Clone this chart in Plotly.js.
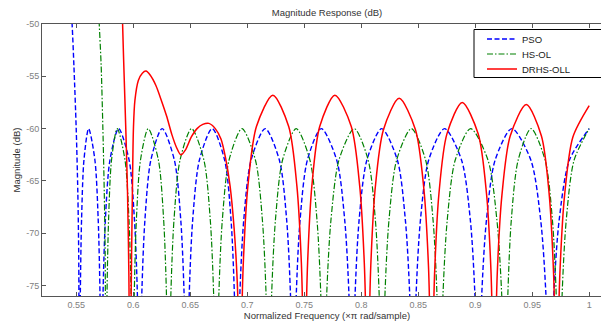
<!DOCTYPE html>
<html><head><meta charset="utf-8">
<script src="https://cdn.plot.ly/plotly-3.0.1.min.js"></script>
<style>html,body{margin:0;padding:0;overflow:hidden;background:#fff;width:601px;height:322px}#chart{width:613px;height:322px}</style>
</head><body><div id="chart"></div>
<script>
const seriesNames = ["PSO", "HS-OL", "DRHS-OLL"];

const pso_x = [0.5420,0.5445,0.5464,0.5480,0.5500,0.5514,0.5522,0.5528,
0.5536,0.5547,0.5568,0.5609,0.5664,0.5693,0.5709,0.5720,
0.5735,0.5756,0.5796,0.5872,0.5964,0.6011,0.6037,0.6055,
0.6075,0.6103,0.6155,0.6254,0.6361,0.6417,0.6447,0.6468,
0.6491,0.6522,0.6581,0.6693,0.6802,0.6858,0.6888,0.6910,
0.6935,0.6970,0.7034,0.7158,0.7282,0.7346,0.7380,0.7405,
0.7430,0.7464,0.7528,0.7650,0.7785,0.7855,0.7893,0.7920,
0.7946,0.7982,0.8050,0.8180,0.8317,0.8387,0.8426,0.8453,
0.8481,0.8520,0.8592,0.8731,0.8880,0.8957,0.8998,0.9028,
0.9057,0.9099,0.9175,0.9322,0.9488,0.9574,0.9621,0.9654,
0.9689,0.9737,0.9827,1.0000];
const pso_y = [-42,-46.5,-50,-54,-60,-66,-72,-90,
-76,-68.7,-63,-60,-63,-68.7,-76,-90,
-76,-68.7,-63,-60,-63,-68.7,-76,-90,
-76,-68.7,-63,-60,-63,-68.7,-76,-90,
-76,-68.7,-63,-60,-63,-68.7,-76,-90,
-76,-68.7,-63,-60,-63,-68.7,-76,-90,
-76,-68.7,-63,-60,-63,-68.7,-76,-90,
-76,-68.7,-63,-60,-63,-68.7,-76,-90,
-76,-68.7,-63,-60,-63,-68.7,-76,-90,
-76,-68.7,-63,-60,-63,-68.7,-76,-90,
-76,-68.7,-63,-60];

const hsol_x = [0.5665,0.5685,0.5702,0.5719,0.5734,0.5746,0.5754,0.5760,
0.5770,0.5784,0.5810,0.5860,0.5928,0.5963,0.5982,0.5995,
0.6009,0.6028,0.6064,0.6132,0.6221,0.6267,0.6292,0.6310,
0.6330,0.6358,0.6411,0.6512,0.6620,0.6676,0.6706,0.6728,
0.6751,0.6782,0.6841,0.6954,0.7072,0.7133,0.7166,0.7190,
0.7214,0.7248,0.7310,0.7430,0.7550,0.7612,0.7646,0.7670,
0.7697,0.7735,0.7805,0.7939,0.8061,0.8124,0.8158,0.8182,
0.8208,0.8244,0.8311,0.8440,0.8565,0.8630,0.8665,0.8690,
0.8717,0.8755,0.8825,0.8960,0.9112,0.9190,0.9233,0.9263,
0.9286,0.9317,0.9377,0.9490,0.9613,0.9677,0.9711,0.9736,
0.9762,0.9799,0.9868,1.0000];
const hsol_y = [-42,-46,-50,-54,-60,-66,-72,-90,
-76,-68.7,-63,-60,-63,-68.7,-76,-90,
-76,-68.7,-63,-60,-63,-68.7,-76,-90,
-76,-68.7,-63,-60,-63,-68.7,-76,-90,
-76,-68.7,-63,-60,-63,-68.7,-76,-90,
-76,-68.7,-63,-60,-63,-68.7,-76,-90,
-76,-68.7,-63,-60,-63,-68.7,-76,-90,
-76,-68.7,-63,-60,-63,-68.7,-76,-90,
-76,-68.7,-63,-60,-63,-68.7,-76,-90,
-76,-68.7,-63,-60,-63,-68.7,-76,-90,
-76,-68.7,-63,-60];

const drhs_x = [0.5880,0.5900,0.5907,0.5916,0.5935,0.5950,0.5962,0.5974,
0.5982,0.5993,0.6002,0.6015,0.6045,0.6080,0.6112,
0.6150,0.6200,0.6250,0.6293,0.6340,0.6380,0.6418,
0.6460,0.6510,0.6560,0.6610,0.6664,
0.6720,0.6770,0.6810,0.6850,0.6885,0.6910,0.6925,0.6937,
0.6951,0.6966,0.7006,0.7081,0.7225,0.7364,0.7436,0.7475,0.7489,0.7503,
0.7516,0.7530,0.7567,0.7636,0.7769,0.7913,0.7987,0.8027,0.8042,0.8056,
0.8070,0.8084,0.8122,0.8195,0.8333,0.8476,0.8550,0.8590,0.8604,0.8618,
0.8631,0.8645,0.8682,0.8752,0.8886,0.9026,0.9099,0.9138,0.9152,0.9166,
0.9180,0.9194,0.9234,0.9307,0.9448,0.9581,0.9650,0.9687,0.9701,0.9714,
0.9728,0.9743,0.9783,0.9857,1.0000];
const drhs_y = [-40,-47,-50,-53.4,-60,-66,-74,-90,
-76,-66,-60,-57.3,-55.4,-54.7,-54.5,
-54.9,-55.9,-57.4,-58.8,-60.6,-61.8,-62.5,
-62.0,-60.8,-60.0,-59.6,-59.5,
-60.0,-61.0,-62.8,-65.5,-69.5,-74,-79,-90,
-78.8,-72.8,-65.5,-59.8,-56.8,-59.8,-65.5,-72.8,-78.8,-90,
-78.8,-72.8,-65.5,-59.8,-56.8,-59.8,-65.5,-72.8,-78.8,-90,
-79.1,-73.1,-65.8,-60.1,-57.1,-60.1,-65.8,-73.1,-79.1,-90,
-79.5,-73.5,-66.2,-60.5,-57.5,-60.5,-66.2,-73.5,-79.5,-90,
-79.7,-73.7,-66.4,-60.7,-57.7,-60.7,-66.4,-73.7,-79.7,-90,
-79.8,-73.8,-66.5,-60.8,-57.8];

const xTickVals = [0.55,0.6,0.65,0.7,0.75,0.8,0.85,0.9,0.95,1];
const xTickText = ["0.55","0.6","0.65","0.7","0.75","0.8","0.85","0.9","0.95","1"];
const yTickVals = [-75,-70,-65,-60,-55,-50];
const yTickText = ["-75","-70","-65","-60","-55","-50"];

const FONT = "Liberation Sans, Arial, Helvetica, sans-serif";
const W = 613, H = 322, ML = 42, MT = 24, PW = 570, PH = 272;
function px2paperX(p){ return (p - ML) / PW; }
function py2paperY(p){ return 1 - (p - MT) / PH; }

const traces = [
  {x: pso_x, y: pso_y, name: seriesNames[0], mode: "lines", legend: "legend",
   line: {color: "#0000ff", width: 1.4, dash: "5px,2.5px", shape: "spline", smoothing: 0.8}},
  {x: hsol_x, y: hsol_y, name: seriesNames[1], mode: "lines", legend: "legend2",
   line: {color: "#008000", width: 1.2, dash: "6px,2px,1.5px,2px", shape: "spline", smoothing: 0.8}},
  {x: drhs_x, y: drhs_y, name: seriesNames[2], mode: "lines", legend: "legend3",
   line: {color: "#ff0000", width: 1.5, shape: "spline", smoothing: 0.8}}
];

const legBase = {x: px2paperX(482), xanchor: "left", yanchor: "middle", xref: "paper", yref: "paper",
  bgcolor: "rgba(0,0,0,0)", borderwidth: 0, font: {family: FONT, size: 9.5, color: "#1a1a1a"}};

const layout = {
  width: W, height: H,
  margin: {l: ML, r: W - ML - PW, t: MT, b: H - MT - PH, pad: 0},
  paper_bgcolor: "#fff", plot_bgcolor: "#fff",
  font: {family: FONT, size: 9, color: "#333"},
  showlegend: true,
  title: {text: "Magnitude Response (dB)", font: {family: FONT, size: 9.5, color: "#333"},
          xref: "paper", x: 0.5, xanchor: "center", yref: "container", y: 1 - 13/H, yanchor: "middle"},
  xaxis: {range: [0.52, 1.02], showgrid: false, zeroline: false,
          showline: true, linecolor: "#555", linewidth: 1, mirror: "ticks",
          ticks: "inside", ticklen: 4, tickcolor: "#555",
          tickvals: xTickVals, ticktext: xTickText,
          tickfont: {family: FONT, size: 9, color: "#808080"},
          title: {text: "Normalized Frequency (\u00d7\u03c0 rad/sample)", font: {family: FONT, size: 9.5, color: "#333"}, standoff: 0}},
  yaxis: {range: [-76, -50], showgrid: false, zeroline: false,
          showline: true, linecolor: "#555", linewidth: 1, mirror: "ticks",
          ticks: "inside", ticklen: 4, tickcolor: "#555",
          tickvals: yTickVals, ticktext: yTickText,
          tickfont: {family: FONT, size: 9, color: "#808080"},
          title: {text: "Magnitude (dB)", font: {family: FONT, size: 9.5, color: "#333"}, standoff: 3}},
  legend: Object.assign({}, legBase, {y: py2paperY(39)}),
  legend2: Object.assign({}, legBase, {y: py2paperY(54)}),
  legend3: Object.assign({}, legBase, {y: py2paperY(69)}),
  shapes: [{type: "rect", xref: "paper", yref: "paper",
            x0: px2paperX(474), x1: px2paperX(640), y0: py2paperY(77.5), y1: py2paperY(29.5),
            line: {color: "#000", width: 1}, fillcolor: "rgba(0,0,0,0)", layer: "below"}]
};

Plotly.newPlot("chart", traces, layout, {displayModeBar: false, staticPlot: true});
</script>
</body></html>
